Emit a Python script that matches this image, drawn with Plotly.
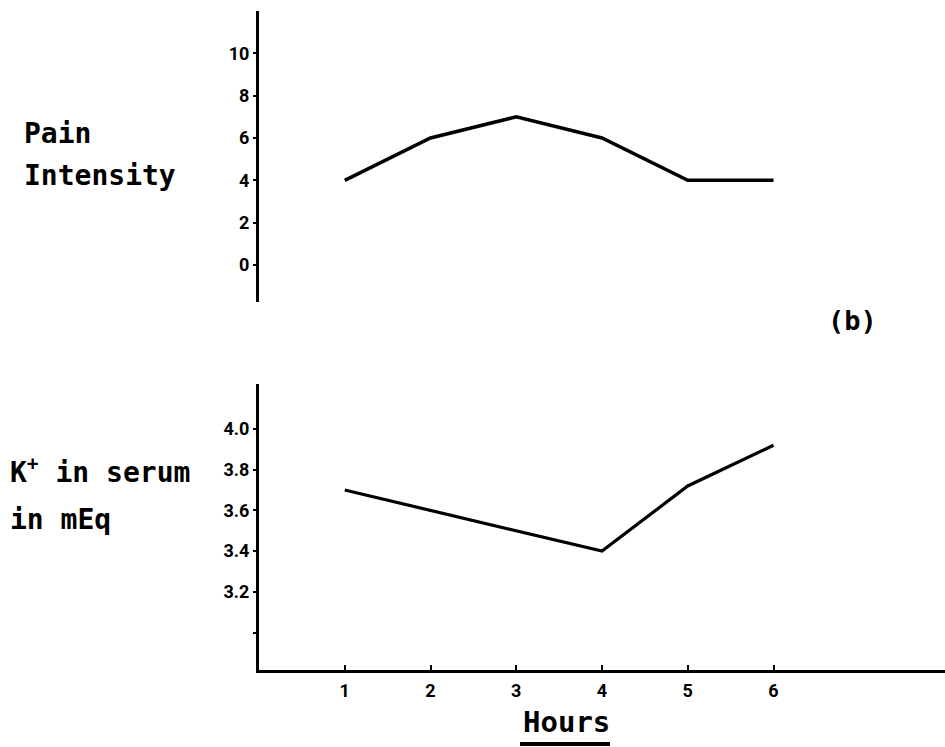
import plotly.graph_objects as go

W, H = 945, 747

hours = [1, 2, 3, 4, 5, 6]
pain_intensity = [4, 6, 7, 6, 4, 4]
k_serum = [3.7, 3.6, 3.5, 3.4, 3.72, 3.92]

pain_ticks = [0, 2, 4, 6, 8, 10]
k_ticks = [3.2, 3.4, 3.6, 3.8, 4.0]
k_ticktext = ["3.2", "3.4", "3.6", "3.8", "4.0"]
k_minor_ticks = [3.0]
hour_ticks = [1, 2, 3, 4, 5, 6]


def px(x):
    return x / W


def py(y):
    return 1 - y / H


MONO = "DejaVu Sans Mono"
TICKFONT = dict(family="Roboto", size=18, color="black", weight="bold")

fig = go.Figure()
fig.add_trace(go.Scatter(x=hours, y=pain_intensity, mode="lines",
                         line=dict(color="black", width=3.5),
                         xaxis="x2", yaxis="y2", showlegend=False,
                         hoverinfo="skip"))
fig.add_trace(go.Scatter(x=hours, y=k_serum, mode="lines",
                         line=dict(color="black", width=3.2),
                         xaxis="x", yaxis="y", showlegend=False,
                         hoverinfo="skip"))

xdom = [px(259), 1.0]

fig.update_layout(
    width=W, height=H,
    margin=dict(l=0, r=0, t=0, b=0),
    paper_bgcolor="white", plot_bgcolor="white",
    showlegend=False,
    xaxis=dict(domain=xdom, range=[0, 8], showgrid=False, zeroline=False,
               showline=True, linecolor="black", linewidth=3,
               ticks="inside", ticklen=5, tickwidth=2, tickcolor="black",
               tickvals=hour_ticks, tickfont=TICKFONT, anchor="y",
               ticklabelstandoff=2),
    yaxis=dict(domain=[py(670), py(384)], range=[2.816, 4.221],
               showgrid=False, zeroline=False,
               showline=True, linecolor="black", linewidth=3,
               ticks="outside", ticklen=3, tickwidth=2, tickcolor="black",
               tickvals=k_ticks, ticktext=k_ticktext, tickfont=TICKFONT,
               minor=dict(tickvals=k_minor_ticks, ticks="outside", ticklen=3,
                          tickwidth=2, tickcolor="black", showgrid=False),
               anchor="x"),
    xaxis2=dict(domain=xdom, range=[0, 8], visible=False, anchor="y2"),
    yaxis2=dict(domain=[py(302), py(11)], range=[-1.75, 12.0],
                showgrid=False, zeroline=False,
                showline=True, linecolor="black", linewidth=3,
                ticks="outside", ticklen=3, tickwidth=2, tickcolor="black",
                tickvals=pain_ticks, tickfont=TICKFONT, anchor="x2"),
)


def label(text, x, y, size=28, xanchor="left"):
    fig.add_annotation(text=text, x=px(x), y=py(y), xref="paper", yref="paper",
                       xanchor=xanchor, yanchor="middle", showarrow=False,
                       font=dict(family=MONO, size=size, color="black", weight="bold"))


label("Pain", 22, 133)
label("Intensity", 22, 175)
label("K<sup>+</sup> in serum", 8, 471)
label("in mEq", 8, 519)
label("(b)", 852, 320, size=27, xanchor="center")
label("Hours", 566, 722, size=29, xanchor="center")

fig.add_shape(type="line", xref="paper", yref="paper",
              x0=px(520), x1=px(610), y0=py(744), y1=py(744),
              line=dict(color="black", width=4))

fig.write_html("out.html",
               config={"displayModeBar": False},
               post_script="document.body.style.margin='0';"
                           "document.body.style.overflow='hidden';")
